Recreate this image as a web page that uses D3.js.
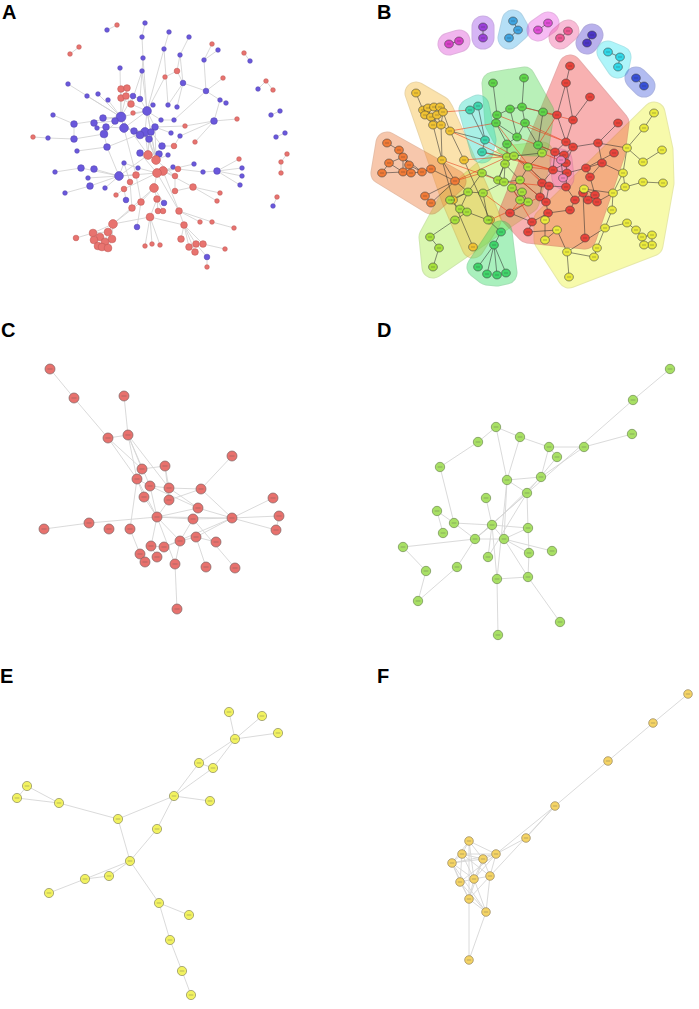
<!DOCTYPE html>
<html>
<head>
<meta charset="utf-8">
<script src="https://cdn.jsdelivr.net/npm/d3@7"></script>
<style>
  body { margin: 0; background: #fff; }
  svg { display: block; }
</style>
</head>
<body>
<svg id="fig" width="699" height="1009"></svg>
<script>
// ---------- data: node positions (panel-local units) ----------

// panel A: blue / red nodes, [x, y, degree class]
const aBlue = [
  [145,23,1],[107,30,1],[169,32,1],[142,37,1],[189,37,1],[164,49,1],[218,50,1],[180,55,1],[143,58,1],[204,60,1],
  [250,61,1],[120,68,1],[142,71,1],[183,83,1.5],[68,84,1],[258,89,1],[206,91,1.5],[98,94,1],[87,96,1],[133,96,1.5],
  [140,99,1.5],[108,100,1],[220,100,1],[226,103,1],[280,111,1],[153,105,1],[168,105,1],[177,107,1],[147,111,3],[53,115,1],
  [271,115,1],[121,117,3.5],[103,118,2],[174,120,1],[161,120,1],[214,121,2],[115,121,2],[94,123,2],[74,124,2],[97,128,1],
  [106,127,2],[124,128,3],[155,127,2],[134,131,2],[145,132,3],[151,132,2],[140,135,2.5],[104,134,2.5],[171,133,1],[180,136,1],
  [48,138,1],[74,139,2],[285,133,1],[276,137,1],[149,139,2],[162,146,2],[107,147,2],[77,151,1],[140,153,2],[159,154,2],
  [168,155,1],[124,163,1],[194,164,1],[138,168,1],[173,167,1],[81,168,2],[94,169,2],[217,171,2],[242,168,1],[203,172,1],
  [55,172,1],[119,176,3],[242,176,1],[88,178,1],[240,185,1],[90,186,2],[105,188,1],[65,193,1],[126,200,1.5],[164,203,1.5],
  [137,227,1.5],[273,206,1],[207,257,1.5]
];
const aRed = [
  [117,25,1],[79,47,1],[70,54,1],[212,44,1],[244,53,1],[177,71,1.5],[165,77,1],[223,78,1],[266,81,1],[273,90,1],
  [121,89,2],[127,88,2],[121,98,2],[126,96,2],[131,104,2],[133,113,1],[237,119,1],[185,126,1],[33,137,1],[195,142,1],
  [174,146,1.5],[148,155,3],[156,160,3],[287,154,1],[239,159,1],[281,162,1],[178,169,1.5],[281,173,1],[163,171,3],[157,173,3],
  [136,175,2],[175,176,1.5],[130,182,1.5],[154,188,3],[193,187,2],[124,189,1.5],[175,191,1.5],[220,193,1],[116,195,1],[157,199,2],
  [217,201,1],[277,197,1],[141,202,2],[132,208,2],[158,211,1.5],[163,211,1.5],[179,211,2],[150,217,2.5],[113,224,3],[200,222,1],
  [212,222,1],[184,225,2],[234,228,1],[93,233,2.5],[108,232,2.5],[100,237,2.5],[76,238,1.5],[112,239,2.5],[181,239,2],[94,240,2.5],
  [105,242,2.5],[98,246,2.5],[102,247,2.5],[108,248,2.5],[196,244,2],[203,244,2],[189,247,2],[145,246,1],[152,244,1],[160,245,1],
  [195,252,2],[225,249,1],[207,267,1]
];
const aLinks = [
  "b0-b3","b3-b8","b8-b12","b12-b20","b1-r0","b2-b5","b5-b28","b5-b26","b4-b7","b7-b13","b13-b26","b13-b27","b7-r5",
  "r3-b9","b6-b9","r5-r6","r6-b28","r5-b13","b9-b16","r7-b16","b16-b13","b16-b22","b22-b23","b22-b35","b35-r16",
  "b35-r19","b35-r17","b35-b49","b16-b33","r1-r2","b10-r4","r8-b15","r8-r9","b24-b30","b52-b53","r23-r25","r25-r27",
  "r41-b81","b11-b31","b14-b31","b17-b31","b18-b31","b19-b31","b20-b28","b29-b38","b38-b31","b38-b51","b51-b47",
  "b57-b56","b50-r18","b50-b51","b21-b31","b32-b31","b36-b31","b37-b36","b39-b40","b40-b41","b41-b31","b41-b28",
  "b41-b44","b41-b43","b43-b44","b44-b45","b45-b42","b42-b28","b28-b25","b28-b34","b34-b33","b44-b46","b46-b54",
  "b54-r21","b44-b28","r10-r12","r11-r13","r12-r14","r13-r14","r10-r11","r14-b28","r15-b28","r12-b31","b31-r13",
  "b28-b31","b47-b31","b40-b47","b56-b44","b56-b71","b65-b70","b65-b71","b66-b71","b73-b71","b75-b71","b77-b75",
  "b76-b71","b71-r21","b71-r30","b71-r29","b71-b61","b61-r32","b61-b63","b63-r29","r21-r22","r22-b28","r22-b44",
  "r21-b58","b59-r22","b60-r22","b55-b45","b55-r20","r20-b49","b48-b42","r17-b42","b62-r28","b67-b68","b67-b72",
  "b67-b74","b67-r24","b67-b69","b69-r26","r26-r28","b64-r28","r31-r28","r28-r29","r29-r33","r33-r39","r39-r47",
  "r47-r48","r47-r67","r47-r68","r47-r69","r47-r51","b79-r33","r51-r58","r51-r66","r51-r64","r51-r65","r51-r70",
  "r65-r71","r64-b82","b82-r72","r46-r49","r46-r50","r50-r52","r46-r51","r46-r28","r34-r37","r34-r40","r34-r28",
  "r34-r36","r36-r31","r43-r32","r42-r30","r42-b80","r35-b78","r38-r35","r35-r29","r44-r39","r45-r39","r48-r53",
  "r48-r54","r48-r57","r53-r55","r54-r60","r55-r59","r59-r61","r61-r62","r62-r63","r60-r63","r57-r63","r56-r53",
  "r53-r54","r55-r57","r48-r42","r48-r33","r22-b54","b58-r29","r33-r42","r21-b31","b12-r14","b19-b20","b47-b56",
  "b28-r22","b44-r21","b31-r30","r29-r46","r22-r31","b42-r22","b12-b28","b8-b28"
];

// panel B: [cluster, x, y]
const bNodes = [
  ["m1",89,44],["m1",99,41],
  ["pu",123,27],["pu",123,38],
  ["lb",153,21],["lb",158,30],["lb",149,38],
  ["m2",178,30],["m2",188,23],
  ["m3",208,31],["m3",200,38],
  ["in",232,35],["in",227,43],
  ["cy",248,52],["cy",260,57],["cy",258,67],
  ["bl",276,78],["bl",284,86],
  ["go",56,93],["go",63,110],["go",68,108],["go",74,107],["go",80,107],["go",65,115],["go",71,117],["go",77,115],
  ["go",83,112],["go",73,125],["go",81,125],["go",90,131],["go",82,160],["go",104,160],["go",93,200],["go",113,247],["go",130,220],
  ["or",27,143],["or",39,150],["or",29,163],["or",43,157],["or",49,165],["or",43,172],["or",51,173],["or",62,172],
  ["or",71,169],["or",22,173],["or",65,196],["or",71,203],["or",95,181],
  ["te",118,106],["te",110,110],["te",125,140],["te",122,152],
  ["gr",133,83],["gr",164,78],["gr",137,115],["gr",150,109],["gr",162,107],["gr",136,123],["gr",165,123],["gr",157,137],
  ["gr",147,144],["gr",178,145],["gr",183,112],
  ["re",210,66],["re",206,83],["re",230,97],["re",213,120],["re",197,115],["re",258,123],["re",238,143],["re",254,153],
  ["re",206,142],["re",213,147],["re",195,152],["re",204,155],["re",206,163],["re",242,163],["re",226,168],["re",207,173],
  ["re",193,170],["re",182,183],["re",189,186],["re",206,187],["re",180,197],["re",186,202],["re",188,213],["re",210,210],
  ["re",215,200],["re",223,193],["re",228,200],["re",235,195],["re",237,202],["re",150,213],["re",172,222],["re",168,232],
  ["re",225,238],["re",230,177],
  ["pi",201,160],["pi",203,178],
  ["li",147,157],["li",154,156],["li",145,164],["li",168,167],["li",160,180],["li",138,180],["li",144,182],["li",122,173],
  ["li",108,192],["li",123,193],["li",100,209],["li",107,212],["li",95,220],["li",128,220],["li",79,248],["li",70,237],
  ["li",73,267],["li",152,188],["li",162,192],["li",168,202],["li",160,200],["li",182,153],["li",90,200],
  ["gb",141,232],["gb",134,245],["gb",118,267],["gb",127,274],["gb",137,275],["gb",146,273],
  ["ye",294,113],["ye",284,128],["ye",267,148],["ye",283,162],["ye",302,150],["ye",263,173],["ye",265,187],["ye",283,182],
  ["ye",303,183],["ye",253,193],["ye",252,210],["ye",245,228],["ye",267,223],["ye",276,230],["ye",282,237],["ye",292,235],
  ["ye",292,245],["ye",284,245],["ye",237,248],["ye",234,257],["ye",207,252],["ye",209,277],["ye",185,220],["ye",185,240],
  ["ye",197,230],["ye",224,189]
];
// hull drawing order (back to front)
const bHullOrder = ["ye","li","re","go","or","gr","te","gb","pi","m1","pu","lb","m2","m3","in","cy","bl"];
const bLinks = [
  "m1:0-m1:1","pu:0-pu:1","lb:0-lb:1","lb:1-lb:2","m2:0-m2:1","m3:0-m3:1","in:0-in:1","cy:0-cy:1","cy:1-cy:2","bl:0-bl:1",
  "go:0-go:1","go:1-go:2","go:2-go:3","go:3-go:4","go:1-go:5","go:5-go:6","go:6-go:7","go:7-go:8","go:2-go:6","go:3-go:7",
  "go:4-go:8","go:5-go:9","go:6-go:9","go:7-go:10","go:8-go:10","go:9-go:10","go:10-go:11","go:8-go:11","go:9-go:12",
  "go:10-go:12","go:11-go:13","go:12-go:14","go:14-go:15","go:13-go:16","go:6-go:10","go:7-go:9",
  "or:0-or:1","or:1-or:3","or:1-or:4","or:3-or:4","or:2-or:3","or:2-or:5","or:3-or:5","or:4-or:6","or:5-or:6","or:6-or:7",
  "or:4-or:7","or:7-or:8","or:2-or:9","or:9-or:5","or:8-or:12","or:10-or:12","or:11-or:12","or:10-or:11","or:3-or:7","or:4-or:5",
  "te:0-te:1","te:0-te:2","te:1-te:2","te:2-te:3",
  "gr:0-gr:2","gr:1-gr:4","gr:2-gr:3","gr:3-gr:4","gr:2-gr:5","gr:4-gr:6","gr:5-gr:7","gr:6-gr:7","gr:7-gr:8","gr:6-gr:9",
  "gr:10-gr:9","gr:3-gr:7","gr:4-gr:10","gr:5-gr:8",
  "re:0-re:1","re:1-re:4","re:1-re:3","re:2-re:3","re:3-re:8","re:4-re:8","re:5-re:6","re:6-re:9","re:7-re:14","re:8-re:9",
  "re:8-re:10","re:9-re:11","re:10-re:11","re:11-re:12","re:12-re:15","re:13-re:14","re:14-re:15","re:15-re:16","re:16-re:17",
  "re:17-re:18","re:18-re:19","re:15-re:19","re:19-re:24","re:24-re:25","re:25-re:26","re:26-re:27","re:27-re:28","re:24-re:23",
  "re:23-re:22","re:22-re:21","re:21-re:20","re:20-re:17","re:18-re:21","re:29-re:30","re:30-re:31","re:30-re:22","re:25-re:32",
  "re:33-re:14","re:33-re:27","re:12-re:16","re:10-re:16","re:9-re:12","re:13-re:33","re:6-re:13",
  "pi:0-pi:1","pi:0-re:11","pi:1-re:15",
  "li:0-li:1","li:0-li:2","li:1-li:3","li:2-li:5","li:2-li:6","li:5-li:6","li:6-li:4","li:4-li:3","li:4-li:17","li:17-li:18",
  "li:18-li:19","li:19-li:20","li:20-li:17","li:7-li:5","li:7-li:8","li:8-li:9","li:9-li:6","li:8-li:10","li:10-li:11",
  "li:11-li:12","li:12-li:15","li:15-li:14","li:14-li:16","li:11-li:13","li:9-li:13","li:3-li:21","li:22-li:10","li:22-li:8",
  "li:1-li:21","li:0-li:5","li:2-li:4",
  "gb:0-gb:1","gb:1-gb:2","gb:1-gb:3","gb:1-gb:4","gb:1-gb:5",
  "ye:0-ye:1","ye:1-ye:2","ye:2-ye:3","ye:3-ye:4","ye:2-ye:5","ye:5-ye:6","ye:6-ye:7","ye:7-ye:8","ye:6-ye:9","ye:9-ye:10",
  "ye:10-ye:11","ye:11-ye:12","ye:12-ye:13","ye:13-ye:14","ye:14-ye:15","ye:15-ye:16","ye:16-ye:17","ye:17-ye:14","ye:11-ye:18",
  "ye:18-ye:19","ye:11-ye:20","ye:20-ye:21","ye:20-ye:24","ye:22-ye:23","ye:23-ye:24","ye:9-ye:25","ye:19-ye:20","ye:5-ye:9",
  "gb:0-li:13","or:12-li:8","go:12-or:12","li:3-re:18","ye:22-re:22","ye:9-re:28","ye:5-re:13","ye:2-re:6","re:20-li:4",
  "go:11-te:2","te:3-li:0","gr:8-li:0","gr:9-re:10","li:21-gr:9","ye:25-re:27","ye:24-re:31","li:19-re:29","go:14-li:8","go:16-li:13"
];
// links drawn in red in the figure (between clusters)
const bRedLinks = [
  "go:11-gr:5","go:8-te:1","go:11-li:0","te:2-li:1","gr:7-re:10","li:3-re:16","or:12-li:7","li:1-re:17","li:4-re:20",
  "gr:9-re:4","gr:2-re:8","li:21-re:12","go:13-li:1","gr:10-re:4","gr:6-re:8","li:0-re:16","go:12-li:5","li:17-re:30",
  "li:20-re:29","gr:4-re:3","te:3-re:16","li:6-re:18","or:12-li:0","li:9-re:29","go:16-re:20","gr:5-re:17"
];

// panels C-F: [x, y]
const cNodes = [
  [50,49],[74,78],[124,76],[108,118],[128,115],[232,136],[165,146],[142,149],[137,159],[150,166],
  [169,168],[201,169],[144,177],[169,180],[273,178],[198,188],[157,197],[193,199],[232,198],[279,196],
  [44,209],[89,203],[109,209],[130,209],[276,210],[196,217],[180,221],[216,222],[151,226],[164,227],
  [140,234],[157,237],[145,242],[175,244],[206,247],[235,248],[177,289]
];
const cLinks = [
  [0,1],[1,3],[3,4],[2,4],[3,7],[3,8],[4,7],[4,8],[4,10],[7,6],[7,8],[8,9],[9,10],[6,10],[10,11],[11,5],[11,18],
  [6,13],[9,16],[8,23],[16,21],[21,20],[16,18],[16,13],[12,16],[13,11],[15,16],[15,18],[17,18],[18,14],[18,19],
  [18,24],[16,26],[16,33],[16,28],[23,30],[30,32],[28,29],[29,26],[26,25],[25,18],[25,27],[25,34],[17,35],[33,36],
  [26,33],[17,26],[28,31],[29,18],[9,15],[10,15],[16,17],[8,16],[19,24],[4,9],[12,8]
];
const dNodes = [
  [320,49],[283,80],[282,114],[146,107],[170,117],[128,122],[199,127],[234,127],[207,137],[90,147],
  [157,160],[191,157],[177,173],[136,178],[87,191],[104,203],[142,205],[178,208],[93,213],[125,219],
  [154,219],[53,227],[179,233],[202,231],[138,237],[107,247],[76,251],[147,259],[178,257],[68,281],
  [210,302],[148,315]
];
const dLinks = [
  [0,1],[1,19],[2,7],[7,6],[7,11],[3,5],[3,4],[3,10],[4,6],[4,10],[5,9],[6,8],[6,11],[8,12],[10,11],[10,12],
  [10,27],[10,20],[12,19],[12,17],[13,16],[9,15],[14,15],[14,18],[15,16],[15,19],[16,19],[16,20],[16,27],
  [16,24],[21,19],[21,26],[26,29],[29,25],[25,19],[19,20],[20,22],[20,28],[20,23],[17,22],[22,28],[27,28],
  [27,31],[28,30],[17,20],[16,17],[11,16],[12,24]
];
const eNodes = [
  [229,52],[262,56],[278,73],[235,79],[199,103],[213,108],[27,126],[17,138],[59,143],[174,136],
  [210,141],[118,159],[157,169],[130,201],[109,216],[85,219],[49,233],[159,243],[189,255],[170,280],
  [182,311],[191,335]
];
const eLinks = [
  [0,3],[1,3],[2,3],[3,4],[3,5],[4,9],[5,9],[4,5],[9,10],[9,11],[9,12],[11,8],[8,6],[8,7],[6,7],[11,13],
  [12,13],[13,14],[13,15],[15,16],[14,15],[13,17],[17,18],[17,19],[19,20],[20,21]
];
const fNodes = [
  [338,34],[303,63],[258,101],[205,146],[176,178],[119,181],[112,194],[146,194],[133,199],[102,203],
  [140,216],[124,219],[110,222],[119,239],[136,252],[119,300]
];
const fLinks = [
  [0,1],[1,2],[2,3],[3,4],[3,7],[3,10],[4,7],[5,6],[5,7],[5,8],[5,9],[5,11],[6,7],[6,8],[6,9],[6,10],[6,11],
  [6,12],[7,8],[7,9],[7,10],[7,11],[7,12],[8,9],[8,10],[8,11],[8,13],[9,11],[9,12],[9,13],[10,11],[10,13],
  [10,14],[11,12],[11,13],[11,14],[12,13],[12,14],[13,14],[13,15],[14,15],[9,14],[5,13]
];

const panelLabels = ["A", "B", "C", "D", "E", "F"];

// ---------- layout / style ----------
const svg = d3.select("#fig");
svg.append("rect").attr("width", 699).attr("height", 1009).attr("fill", "#fff");

const panelBox = {
  A: { x: 0, y: 0 }, B: { x: 360, y: 0 },
  C: { x: 0, y: 320 }, D: { x: 350, y: 320 },
  E: { x: 0, y: 660 }, F: { x: 350, y: 660 }
};
const labelPos = {
  A: [2, 19], B: [377, 19], C: [1, 337], D: [377, 337], E: [0, 683], F: [377, 683]
};

// scales per panel: local data units -> page pixels
function panelScales(p) {
  const b = panelBox[p];
  return {
    x: d3.scaleLinear().domain([0, 349]).range([b.x, b.x + 349]),
    y: d3.scaleLinear().domain([0, 340]).range([b.y, b.y + 340])
  };
}

const edgeGrey = "#d6d6d6";

// ---------- panel A ----------
(function drawA() {
  const s = panelScales("A");
  const r = d3.scaleLinear().domain([1, 3.5]).range([2.3, 4.9]);
  const color = d3.scaleOrdinal().domain(["b", "r"]).range(["#6a58dc", "#e8736f"]);
  const stroke = d3.scaleOrdinal().domain(["b", "r"]).range(["#5646b4", "#c25a57"]);
  const nodes = aBlue.map((d, i) => ({ id: "b" + i, g: "b", x: d[0], y: d[1], s: d[2] }))
    .concat(aRed.map((d, i) => ({ id: "r" + i, g: "r", x: d[0], y: d[1], s: d[2] })));
  const byId = new Map(nodes.map(n => [n.id, n]));
  const links = aLinks.map(l => l.split("-").map(k => byId.get(k))).filter(l => l[0] && l[1]);

  const g = svg.append("g");
  g.selectAll("line").data(links).enter().append("line")
    .attr("x1", d => s.x(d[0].x)).attr("y1", d => s.y(d[0].y))
    .attr("x2", d => s.x(d[1].x)).attr("y2", d => s.y(d[1].y))
    .attr("stroke", "#cfcfcf").attr("stroke-width", 0.8);
  g.selectAll("circle").data(nodes).enter().append("circle")
    .attr("cx", d => s.x(d.x)).attr("cy", d => s.y(d.y)).attr("r", d => r(d.s))
    .attr("fill", d => color(d.g)).attr("stroke", d => stroke(d.g)).attr("stroke-width", 0.6);
})();

// ---------- panel B ----------
(function drawB() {
  const s = panelScales("B");
  const hullColor = {
    ye: "#eef43a", li: "#a8ee48", re: "#f04848", go: "#f6bc3c", or: "#ee7c3c", gr: "#58dc58",
    te: "#34dcc4", gb: "#34dc64", pi: "#f57ab8", m1: "#e050d8", pu: "#a050e8", lb: "#50b4ec",
    m2: "#ee60e6", m3: "#f2609e", in: "#5a48d4", cy: "#40e8f4", bl: "#4a62e0"
  };
  const nodeColor = {
    ye: "#eaea3c", li: "#a6e03a", re: "#e8433a", go: "#f0c232", or: "#f07a36", gr: "#5ed448",
    te: "#3ed6ae", gb: "#40d46a", pi: "#f286b8", m1: "#d840c8", pu: "#9a40d8", lb: "#40a4e0",
    m2: "#e04ed6", m3: "#ee5690", in: "#4c36c6", cy: "#30d8e8", bl: "#3850d8"
  };
  const count = {};
  const nodes = bNodes.map(d => {
    count[d[0]] = (count[d[0]] || 0);
    const n = { id: d[0] + ":" + count[d[0]], c: d[0], x: d[1], y: d[2] };
    count[d[0]]++;
    return n;
  });
  const byId = new Map(nodes.map(n => [n.id, n]));
  const toPairs = arr => arr.map(l => l.split("-").map(k => byId.get(k))).filter(l => l[0] && l[1]);

  // cluster hulls: padded with a thick round stroke
  const hulls = svg.append("g");
  bHullOrder.forEach(c => {
    const pts = nodes.filter(n => n.c === c).map(n => [s.x(n.x), s.y(n.y)]);
    let dPath;
    if (pts.length < 3) {
      dPath = "M" + pts[0].join(",") + "L" + pts[pts.length - 1].join(",");
    } else {
      dPath = "M" + d3.polygonHull(pts).map(p => p.join(",")).join("L") + "Z";
    }
    const hg = hulls.append("g").attr("opacity", 0.42);
    hg.append("path").attr("d", dPath)
      .attr("fill", d3.color(hullColor[c]).darker(0.5)).attr("stroke", d3.color(hullColor[c]).darker(0.5))
      .attr("stroke-width", 23).attr("stroke-linejoin", "round").attr("stroke-linecap", "round");
    hg.append("path").attr("d", dPath)
      .attr("fill", hullColor[c]).attr("stroke", hullColor[c])
      .attr("stroke-width", 21).attr("stroke-linejoin", "round").attr("stroke-linecap", "round");
  });

  const g = svg.append("g");
  g.selectAll("line.k").data(toPairs(bLinks)).enter().append("line")
    .attr("x1", d => s.x(d[0].x)).attr("y1", d => s.y(d[0].y))
    .attr("x2", d => s.x(d[1].x)).attr("y2", d => s.y(d[1].y))
    .attr("stroke", "#2e2e2e").attr("stroke-width", 0.55);
  g.selectAll("line.rd").data(toPairs(bRedLinks)).enter().append("line")
    .attr("x1", d => s.x(d[0].x)).attr("y1", d => s.y(d[0].y))
    .attr("x2", d => s.x(d[1].x)).attr("y2", d => s.y(d[1].y))
    .attr("stroke", "#e8401e").attr("stroke-width", 0.6);
  g.selectAll("ellipse").data(nodes).enter().append("ellipse")
    .attr("cx", d => s.x(d.x)).attr("cy", d => s.y(d.y)).attr("rx", 4.4).attr("ry", 4)
    .attr("fill", d => nodeColor[d.c]).attr("stroke", "#3a3a3a").attr("stroke-width", 0.55);
  // unreadable gene labels -> tiny dark marks
  g.selectAll("line.lab").data(nodes).enter().append("line")
    .attr("x1", d => s.x(d.x) - 2).attr("x2", d => s.x(d.x) + 2)
    .attr("y1", d => s.y(d.y)).attr("y2", d => s.y(d.y))
    .attr("stroke", "#333").attr("stroke-width", 0.6).attr("opacity", 0.55);
})();

// ---------- panels C-F ----------
function drawSub(p, nodeData, linkData, fill, stroke, rad) {
  const s = panelScales(p);
  const g = svg.append("g");
  g.selectAll("line.e").data(linkData).enter().append("line")
    .attr("x1", d => s.x(nodeData[d[0]][0])).attr("y1", d => s.y(nodeData[d[0]][1]))
    .attr("x2", d => s.x(nodeData[d[1]][0])).attr("y2", d => s.y(nodeData[d[1]][1]))
    .attr("stroke", edgeGrey).attr("stroke-width", 0.9);
  g.selectAll("circle").data(nodeData).enter().append("circle")
    .attr("cx", d => s.x(d[0])).attr("cy", d => s.y(d[1])).attr("r", rad)
    .attr("fill", fill).attr("stroke", stroke).attr("stroke-width", 0.7);
  g.selectAll("line.lab").data(nodeData).enter().append("line")
    .attr("x1", d => s.x(d[0]) - rad * 0.5).attr("x2", d => s.x(d[0]) + rad * 0.5)
    .attr("y1", d => s.y(d[1])).attr("y2", d => s.y(d[1]))
    .attr("stroke", "#555").attr("stroke-width", 0.6).attr("opacity", 0.6);
}
drawSub("C", cNodes, cLinks, "#e8716d", "#7e6464", 5);
drawSub("D", dNodes, dLinks, "#a8e064", "#6e8a52", 4.7);
drawSub("E", eNodes, eLinks, "#f2f260", "#8a8a5c", 4.6);
drawSub("F", fNodes, fLinks, "#f5d465", "#93835c", 4.3);

// ---------- panel letters ----------
svg.selectAll("text.panel").data(panelLabels).enter().append("text")
  .attr("class", "panel")
  .attr("x", d => labelPos[d][0]).attr("y", d => labelPos[d][1])
  .attr("font-family", "'Liberation Sans', Arial, sans-serif")
  .attr("font-weight", "bold").attr("font-size", 20)
  .attr("fill", "#000")
  .text(d => d);
</script>
</body>
</html>
